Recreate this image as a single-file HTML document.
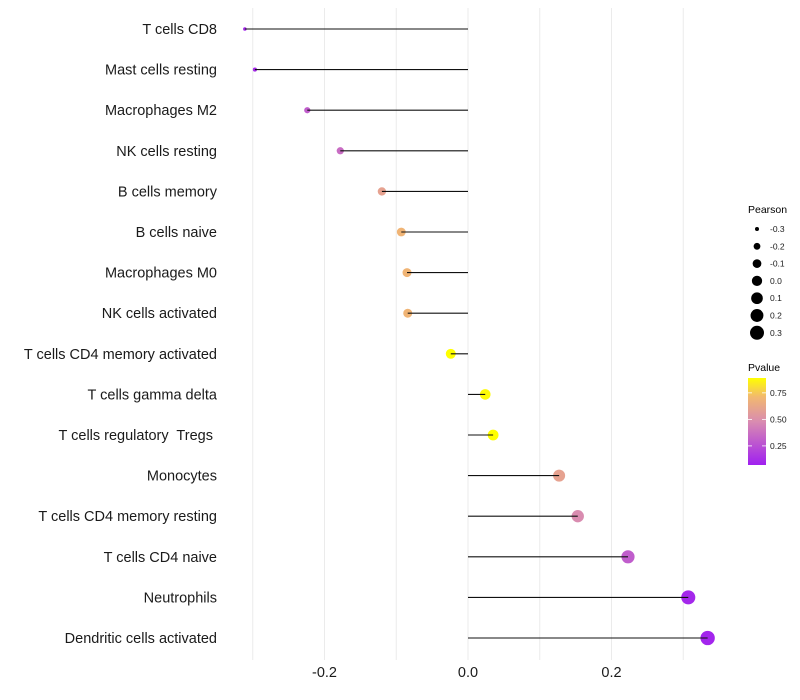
<!DOCTYPE html>
<html><head><meta charset="utf-8"><style>
body{margin:0;background:#fff;font-family:"Liberation Sans",sans-serif}
svg{display:block}
</style></head><body>
<svg id="chart" width="800" height="700">
<defs><linearGradient id="pg" x1="0" y1="1" x2="0" y2="0">
<stop offset="0" stop-color="#a020f0"/><stop offset="0.5" stop-color="#d98cb0"/><stop offset="0.78" stop-color="#f2b870"/><stop offset="1" stop-color="#ffff00"/></linearGradient></defs>
</svg>
<script>
const categories=["T cells CD8","Mast cells resting","Macrophages M2","NK cells resting","B cells memory","B cells naive","Macrophages M0","NK cells activated","T cells CD4 memory activated","T cells gamma delta","T cells regulatory  Tregs ","Monocytes","T cells CD4 memory resting","T cells CD4 naive","Neutrophils","Dendritic cells activated"];
const pearson=[-0.311,-0.297,-0.224,-0.178,-0.120,-0.093,-0.085,-0.084,-0.024,0.024,0.035,0.127,0.153,0.223,0.307,0.334];
const pvalue=[0.10,0.11,0.30,0.36,0.60,0.70,0.70,0.70,0.90,0.88,0.90,0.60,0.48,0.30,0.10,0.09];
const xTicks=[-0.2,0.0,0.2];
const xTickLabels=["-0.2","0.0","0.2"];
const gridVals=[-0.3,-0.2,-0.1,0,0.1,0.2,0.3];
const sizeLegend=[-0.3,-0.2,-0.1,0.0,0.1,0.2,0.3];
const pLegend=[0.25,0.50,0.75];

const NS="http://www.w3.org/2000/svg";
const svg=document.getElementById('chart');
function el(t,a,p){const e=document.createElementNS(NS,t);for(const k in a)e.setAttribute(k,a[k]);(p||svg).appendChild(e);return e;}
const x=v=>468+v*717.5;
const y=i=>29+i*40.6;
const r=v=>Math.sqrt(Math.max(2.5,26.5+75*v));
const stops=[[0.07,[160,32,240]],[0.48,[217,140,176]],[0.72,[242,184,112]],[0.89,[255,255,0]]];
function col(p){if(p<=stops[0][0])return 'rgb('+stops[0][1]+')';for(let i=1;i<stops.length;i++){if(p<=stops[i][0]){const t=(p-stops[i-1][0])/(stops[i][0]-stops[i-1][0]);const a=stops[i-1][1],b=stops[i][1];return 'rgb('+a.map((c,j)=>Math.round(c+(b[j]-c)*t))+')';}}return 'rgb(255,255,0)';}
const py=p=>465-(p-0.07)/(0.89-0.07)*87;

gridVals.forEach(g=>{const l=el('line',{x1:x(g),x2:x(g),y1:8,y2:660,stroke:'#ebebeb','stroke-width':1});

});
categories.forEach((c,i)=>{
 const t=el('text',{x:217,y:y(i)+5,'text-anchor':'end','font-size':14.5,fill:'#1a1a1a',style:'white-space:pre'});t.textContent=c;
 
 
 const d=el('circle',{cx:x(pearson[i]),cy:y(i),r:r(pearson[i]),fill:col(pvalue[i])});
 
 
 const s=el('line',{x1:x(0),x2:x(pearson[i]),y1:y(i),y2:y(i),stroke:'#111','stroke-width':1.1});
 
 
});
xTicks.forEach((v,i)=>{const t=el('text',{x:x(v),y:677,'text-anchor':'middle','font-size':14.5,fill:'#1a1a1a'});t.textContent=xTickLabels[i];

});
let t=el('text',{x:748,y:213,'font-size':10.5,fill:'#000'});t.textContent='Pearson';


sizeLegend.forEach((v,i)=>{const cy=229+i*17.3;
 const c=el('circle',{cx:757,cy:cy,r:r(v),fill:'#000'});
 
 
 const l=el('text',{x:770,y:cy+3,'font-size':8.5,fill:'#1a1a1a'});l.textContent=v.toFixed(1);
 
 });
t=el('text',{x:748,y:371,'font-size':10.5,fill:'#000'});t.textContent='Pvalue';


const bar=el('rect',{x:748,y:378,width:18,height:87,fill:'url(#pg)'});


pLegend.forEach(p=>{const yy=py(p);
 el('line',{x1:748,x2:752,y1:yy,y2:yy,stroke:'#fff','stroke-width':0.8});el('line',{x1:762,x2:766,y1:yy,y2:yy,stroke:'#fff','stroke-width':0.8});
 const l=el('text',{x:770,y:yy+3,'font-size':8.5,fill:'#1a1a1a'});l.textContent=p.toFixed(2);
 
 });
</script>
</body></html>
